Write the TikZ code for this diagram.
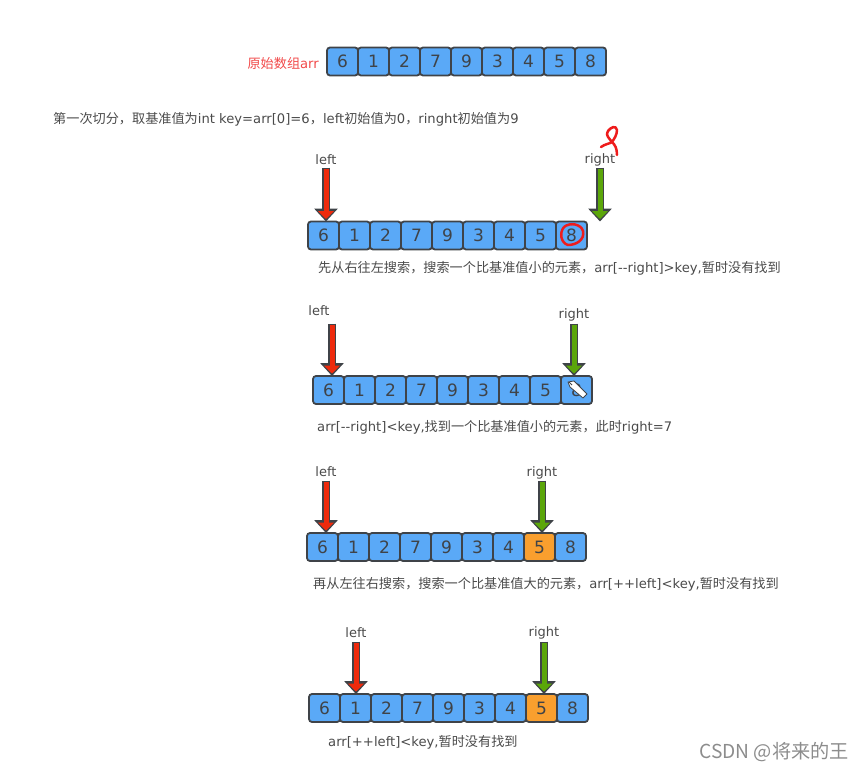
\documentclass[tikz,border=0pt]{standalone}
\usepackage{fontspec}
\setmainfont{DejaVu Sans}
\newfontfamily\cjk{Noto Sans CJK SC}
\usepackage{xcolor}
\usetikzlibrary{arrows.meta,positioning}
\definecolor{cellblue}{HTML}{5AA9F7}
\definecolor{cellhot}{HTML}{F99F2E}
\definecolor{edgegray}{HTML}{3F4348}
\definecolor{textgray}{HTML}{4A4A4A}
\definecolor{markred}{HTML}{EE1C1C}
\definecolor{leftred}{HTML}{EE2A0C}
\definecolor{rightgreen}{HTML}{5BA60A}

\begin{document}
\begin{tikzpicture}[
    x=1pt, y=-1pt,
    node distance=0pt and 0pt,
    cell/.style={draw=edgegray, line width=1.8pt, rounded corners=3pt, fill=cellblue, text=edgegray, minimum width=31pt, minimum height=28pt, inner sep=0pt, outer sep=0pt, font=\fontsize{17}{20}\selectfont},
    hot/.style={cell, fill=cellhot},
    pointer/.style={text=textgray, inner sep=0pt, yshift=-1pt, font=\fontsize{13}{15}\selectfont},
    caption/.style={text=textgray, anchor=west, inner sep=0pt, yshift=-1pt, font=\fontsize{13.15}{15}\selectfont},
    leftarrow/.style={draw=leftred, line width=5pt, shorten >=2.5pt, -{Triangle[length=8pt,width=16pt]}, preaction={draw=edgegray, line width=8pt, shorten <=-1.5pt, shorten >=0pt, -{Triangle[length=13pt,width=23pt]}}},
    rightarrow/.style={leftarrow, draw=rightgreen},
    scribble/.style={draw=markred, line width=2.5pt, line cap=round, line join=round}
  ]
    \useasboundingbox (0,0) rectangle (865,771);

    % original array
    \node[text=markred!80, anchor=east, inner sep=0pt, yshift=-1pt, font=\fontsize{13.15}{15}\selectfont] (title) at (319,63) {{\cjk 原始数组}arr};
    \node[cell] (a1) at (342.5,61.5) {6};
    \node[cell, right=of a1] (a2) {1};
    \node[cell, right=of a2] (a3) {2};
    \node[cell, right=of a3] (a4) {7};
    \node[cell, right=of a4] (a5) {9};
    \node[cell, right=of a5] (a6) {3};
    \node[cell, right=of a6] (a7) {4};
    \node[cell, right=of a7] (a8) {5};
    \node[cell, right=of a8] (a9) {8};
    \node[caption] (intro) at (53,118) {{\cjk 第一次切分，取基准值为}int key=arr[0]=6{\cjk ，}left{\cjk 初始值为}0{\cjk ，}ringht{\cjk 初始值为}9};

    % right searches first
    \node[cell] (b1) at (323.5,235.5) {6};
    \node[cell, right=of b1] (b2) {1};
    \node[cell, right=of b2] (b3) {2};
    \node[cell, right=of b3] (b4) {7};
    \node[cell, right=of b4] (b5) {9};
    \node[cell, right=of b5] (b6) {3};
    \node[cell, right=of b6] (b7) {4};
    \node[cell, right=of b7] (b8) {5};
    \node[cell, right=of b8] (b9) {8};
    \node[pointer] (leftb) at (326,159) {left};
    \node[pointer] (rightb) at (600,159) {right};
    \coordinate (lb) at (326,169);
    \coordinate (rb) at (600,169);
    \draw[leftarrow] (lb) -- (lb |- b1.north);
    \draw[rightarrow] (rb) -- (rb |- b9.north);
    \node[caption] (capb) at (318,267) {{\cjk 先从右往左搜索，搜索一个比基准值小的元素，}arr[-{}-right]>key,{\cjk 暂时没有找到}};
    \draw[scribble] (601,147) .. controls (605,144) and (609,144) .. (612,142) .. controls (609,138) and (605,135) .. (608,131) .. controls (611,127) and (616,125) .. (617,130) .. controls (617,135) and (614,139) .. (612,142) .. controls (615,145) and (617,148) .. (617,155);
    \draw[scribble] (564,227) .. controls (570,222) and (581,224) .. (583,231) .. controls (585,240) and (576,245) .. (568,245) .. controls (561,243) and (559,233) .. (564,227);

    % right stops at 8
    \node[cell] (c1) at (328.5,390) {6};
    \node[cell, right=of c1] (c2) {1};
    \node[cell, right=of c2] (c3) {2};
    \node[cell, right=of c3] (c4) {7};
    \node[cell, right=of c4] (c5) {9};
    \node[cell, right=of c5] (c6) {3};
    \node[cell, right=of c6] (c7) {4};
    \node[cell, right=of c7] (c8) {5};
    \node[cell, right=of c8] (c9) {8};
    \node[pointer] (leftc) at (319,310) {left};
    \node[pointer] (rightc) at (574,314) {right};
    \coordinate (lc) at (332,325);
    \coordinate (rc) at (574,325);
    \draw[leftarrow] (lc) -- (lc |- c1.north);
    \draw[rightarrow] (rc) -- (rc |- c9.north);
    \node[caption] (capc) at (317,426) {arr[-{}-right]<key,{\cjk 找到一个比基准值小的元素，此时}right=7};
    \draw[edgegray, fill=white, line width=.8pt, line join=round] (568,382) -- (574,381) -- (587,394) -- (583,398) -- (570,387) -- cycle;
    \draw[edgegray, line width=1pt] (569,382) -- (572,385);

    % left searches next
    \node[cell] (d1) at (322.5,547) {6};
    \node[cell, right=of d1] (d2) {1};
    \node[cell, right=of d2] (d3) {2};
    \node[cell, right=of d3] (d4) {7};
    \node[cell, right=of d4] (d5) {9};
    \node[cell, right=of d5] (d6) {3};
    \node[cell, right=of d6] (d7) {4};
    \node[hot, right=of d7] (d8) {5};
    \node[cell, right=of d8] (d9) {8};
    \node[pointer] (leftd) at (326,471) {left};
    \node[pointer] (rightd) at (542,472) {right};
    \coordinate (ld) at (326,482);
    \coordinate (rd) at (542,482);
    \draw[leftarrow] (ld) -- (ld |- d1.north);
    \draw[rightarrow] (rd) -- (rd |- d8.north);
    \node[caption] (capd) at (313,583) {{\cjk 再从左往右搜索，搜索一个比基准值大的元素，}arr[++left]<key,{\cjk 暂时没有找到}};

    % left moved by one
    \node[cell] (e1) at (324.5,708) {6};
    \node[cell, right=of e1] (e2) {1};
    \node[cell, right=of e2] (e3) {2};
    \node[cell, right=of e3] (e4) {7};
    \node[cell, right=of e4] (e5) {9};
    \node[cell, right=of e5] (e6) {3};
    \node[cell, right=of e6] (e7) {4};
    \node[hot, right=of e7] (e8) {5};
    \node[cell, right=of e8] (e9) {8};
    \node[pointer] (lefte) at (356,632) {left};
    \node[pointer] (righte) at (544,632) {right};
    \coordinate (le) at (356,643);
    \coordinate (re) at (544,643);
    \draw[leftarrow] (le) -- (le |- e2.north);
    \draw[rightarrow] (re) -- (re |- e8.north);
    \node[caption] (cape) at (328,741) {arr[++left]<key,{\cjk 暂时没有找到}};

    \node[text=black!45, anchor=east, inner sep=0pt, font=\fontsize{19.2}{21}\selectfont] (stamp) at (849,752) {\cjk CSDN @将来的王};
  \end{tikzpicture}
\end{document}
